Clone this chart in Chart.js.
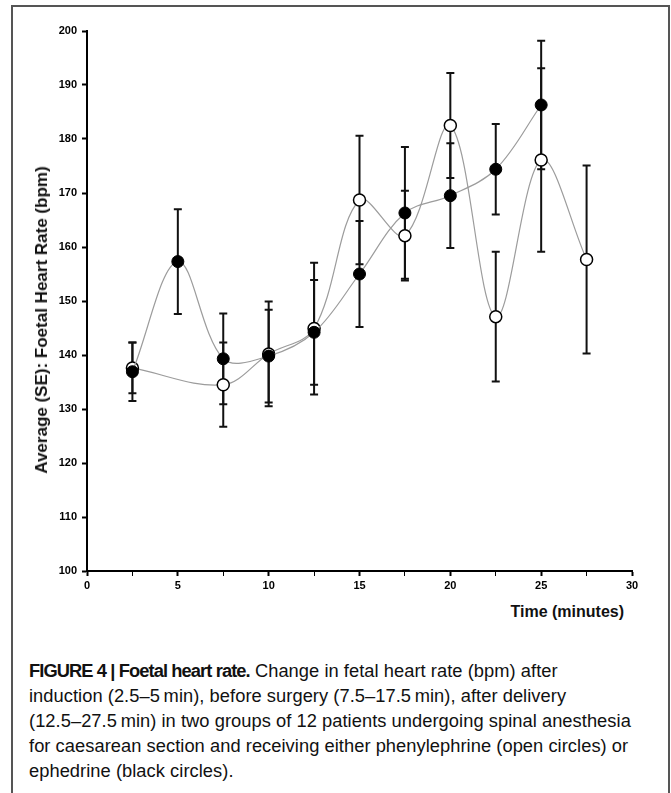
<!DOCTYPE html>
<html>
<head>
<meta charset="utf-8">
<script src="https://cdn.jsdelivr.net/npm/chart.js@4"></script>
<style>
  html, body { margin: 0; padding: 0; background: #fff; overflow: hidden; }
  body { width: 671px; height: 793px; position: relative; font-family: "Liberation Sans", Arial, sans-serif; color: #111; }
  #frame { position: absolute; left: 11px; top: 5px; width: 655px; height: 900px; border: 2px solid #555; }
  #wrap { position: absolute; left: 0; top: 0; width: 671px; height: 600px; }
  .ytitle { position: absolute; left: 42px; top: 320px; transform: translate(-50%, -50%) rotate(-90deg); white-space: nowrap; font-weight: bold; font-size: 17px; }
  .xtitle { position: absolute; right: 47px; top: 603px; font-weight: bold; font-size: 16px; white-space: nowrap; }
  #caption { position: absolute; left: 29px; top: 658px; font-size: 18.3px; line-height: 25px; letter-spacing: 0.05px; white-space: nowrap; }
  #caption b { letter-spacing: -0.9px; }
</style>
</head>
<body>
<div id="frame"></div>
<div id="wrap"><canvas id="fhrChart"></canvas></div>
<div class="ytitle">Average (SE): Foetal Heart Rate (bpm)</div>
<div class="xtitle">Time (minutes)</div>
<div id="caption"><b>FIGURE 4 | Foetal heart rate.</b> Change in fetal heart rate (bpm) after<br>induction (2.5–5&thinsp;min), before surgery (7.5–17.5&thinsp;min), after delivery<br>(12.5–27.5&thinsp;min) in two groups of 12 patients undergoing spinal anesthesia<br>for caesarean section and receiving either phenylephrine (open circles) or<br>ephedrine (black circles).</div>

<script>
// time points (minutes)
const times = [2.5, 5, 7.5, 10, 12.5, 15, 17.5, 20, 22.5, 25, 27.5];

// phenylephrine (open circles)
const phenylMean = [137.6, null, 134.5, 140.2, 144.9, 168.7, 162.1, 182.5, 147.1, 176.1, 157.7];
const phenylSE   = [4.7, null, 7.8, 9.7, 12.2, 11.9, 8.3, 9.7, 12.0, 17.0, 17.4];

// ephedrine (black circles)
const ephedMean = [136.9, 157.3, 139.3, 139.8, 144.2, 155.0, 166.3, 169.5, 174.4, 186.3, null];
const ephedSE   = [5.4, 9.7, 8.4, 8.6, 9.7, 9.8, 12.2, 9.7, 8.4, 11.9, null];

const toPoints = (mean, se) =>
  times.map((t, i) => ({ x: t, y: mean[i], se: se[i] })).filter(p => p.y !== null);

// vertical SE bars with caps, drawn under the markers
const errorBars = {
  id: "errorBars",
  beforeDatasetsDraw(chart) {
    const { ctx, scales: { x, y } } = chart;
    ctx.save();
    ctx.strokeStyle = "#111";
    ctx.lineWidth = 2;
    chart.data.datasets.forEach(ds => {
      ds.data.forEach(p => {
        const px = x.getPixelForValue(p.x);
        const top = y.getPixelForValue(p.y + p.se);
        const bot = y.getPixelForValue(p.y - p.se);
        ctx.beginPath();
        ctx.moveTo(px, top); ctx.lineTo(px, bot);
        ctx.moveTo(px - 4, top); ctx.lineTo(px + 4, top);
        ctx.moveTo(px - 4, bot); ctx.lineTo(px + 4, bot);
        ctx.stroke();
      });
    });
    ctx.restore();
  }
};

new Chart(document.getElementById("fhrChart"), {
  type: "line",
  data: {
    datasets: [
      {
        label: "Ephedrine",
        data: toPoints(ephedMean, ephedSE),
        borderColor: "#9c9c9c",
        borderWidth: 1.2,
        tension: 0.35,
        pointRadius: 6,
        pointBackgroundColor: "#000",
        pointBorderColor: "#000",
        pointBorderWidth: 1
      },
      {
        label: "Phenylephrine",
        data: toPoints(phenylMean, phenylSE),
        borderColor: "#9c9c9c",
        borderWidth: 1.2,
        tension: 0.35,
        pointRadius: 6,
        pointBackgroundColor: "#fff",
        pointBorderColor: "#000",
        pointBorderWidth: 1.5
      }
    ]
  },
  options: {
    responsive: true,
    maintainAspectRatio: false,
    animation: false,
    clip: false,
    layout: { padding: { top: 31, right: 39, left: 0, bottom: 0 } },
    plugins: { legend: { display: false }, tooltip: { enabled: false } },
    scales: {
      x: {
        type: "linear",
        min: 0,
        max: 30,
        border: { color: "#000", width: 2 },
        grid: {
          drawOnChartArea: false,
          tickLength: 5,
          tickColor: "#000",
          tickWidth: c => (c.tick && c.tick.value % 5 === 0 ? 2 : 1)
        },
        ticks: {
          stepSize: 2.5,
          autoSkip: false,
          maxRotation: 0,
          padding: 3,
          color: "#000",
          font: { family: "Liberation Sans", size: 11, weight: "bold" },
          callback: v => (v % 5 === 0 ? v : "")
        },
        afterFit: s => { s.height = 29; }
      },
      y: {
        min: 100,
        max: 200,
        border: { color: "#000", width: 2 },
        grid: { drawOnChartArea: false, tickLength: 5, tickColor: "#000", tickWidth: 2 },
        ticks: {
          stepSize: 10,
          padding: 5,
          color: "#000",
          font: { family: "Liberation Sans", size: 11, weight: "bold" }
        },
        afterFit: s => { s.width = 87; }
      }
    }
  },
  plugins: [errorBars]
});
</script>
</body>
</html>
